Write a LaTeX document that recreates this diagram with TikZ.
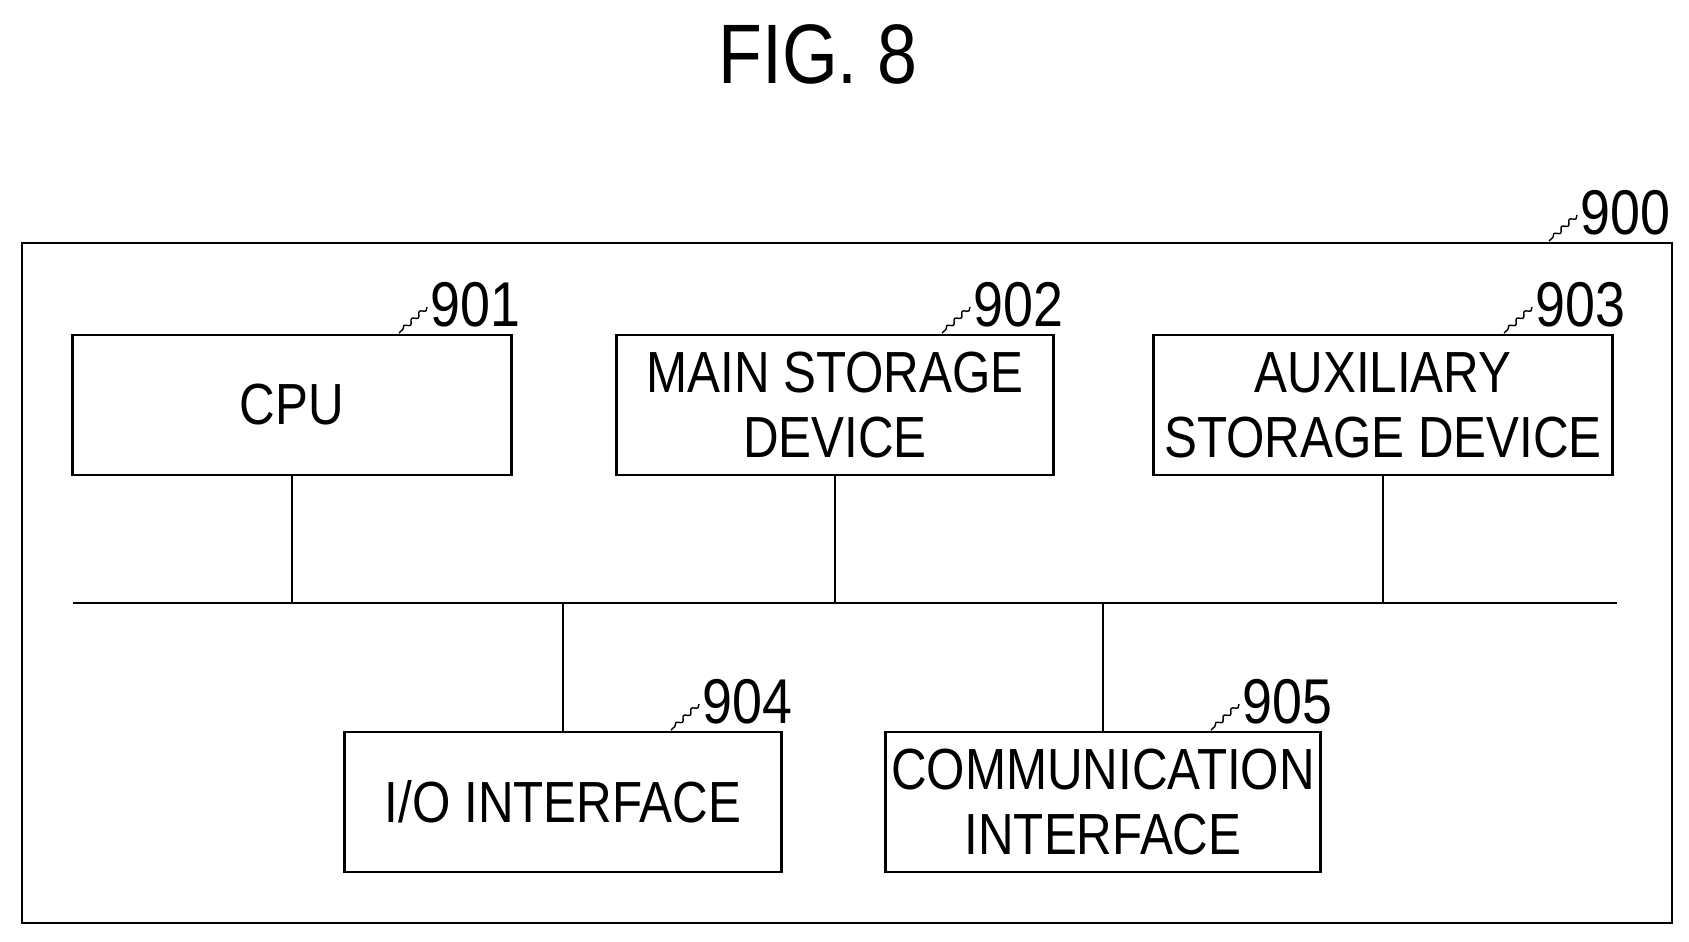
\documentclass[tikz,border=0pt]{standalone}
\usepackage{fontspec}
\setmainfont{Liberation Sans}
\newfontfamily\narrowfont[FakeStretch=0.85]{Liberation Sans}
\usetikzlibrary{decorations.pathmorphing}
\begin{document}
\begin{tikzpicture}[x=0.01cm, y=-0.01cm,
    block/.style={draw, thick, minimum height=1.4cm, align=center, font=\narrowfont\fontsize{16.5}{18.5}\selectfont, inner sep=0pt},
    refnum/.style={font=\narrowfont\fontsize{18}{20}\selectfont, inner sep=0pt},
    leader/.style={thin, decorate, decoration={snake, amplitude=0.6pt, segment length=3pt}}]
  \useasboundingbox (0,0) rectangle (1689,941);
  \node[font=\narrowfont\fontsize{24}{26}\selectfont] (title) at (818,54) {FIG.\ 8};
  \draw[thick] (22,243) rectangle (1672,923);
  % blocks
  \node[block, minimum width=4.38cm] (cpu) at (292,405) {CPU};
  \node[block, minimum width=4.37cm] (mem) at (835,405) {MAIN STORAGE\\DEVICE};
  \node[block, minimum width=4.59cm] (aux) at (1383,405) {AUXILIARY\\STORAGE DEVICE};
  \node[block, minimum width=4.37cm] (io) at (563,802) {I/O INTERFACE};
  \node[block, minimum width=4.34cm] (com) at (1103,802) {COMMUNICATION\\INTERFACE};
  % bus
  \coordinate (busL) at (73,603);
  \coordinate (busR) at (1617,603);
  \draw[thick] (busL) -- (busR);
  \foreach \n in {cpu,mem,aux,io,com} {
    \draw[thick] (\n) -- (\n |- busL);
  }
  % reference numerals
  \node[refnum, anchor=west] (r900) at (1580,213) {900};
  \node[refnum, anchor=west] (r901) at (430,305) {901};
  \node[refnum, anchor=west] (r902) at (973,305) {902};
  \node[refnum, anchor=west] (r903) at (1535,305) {903};
  \node[refnum, anchor=west] (r904) at (702,702) {904};
  \node[refnum, anchor=west] (r905) at (1242,702) {905};
  \foreach \r in {r900,r901,r902,r903,r904,r905} {
    \draw[leader] (\r.west) ++(-3,2) -- ++(-28,26);
  }
\end{tikzpicture}
\end{document}
